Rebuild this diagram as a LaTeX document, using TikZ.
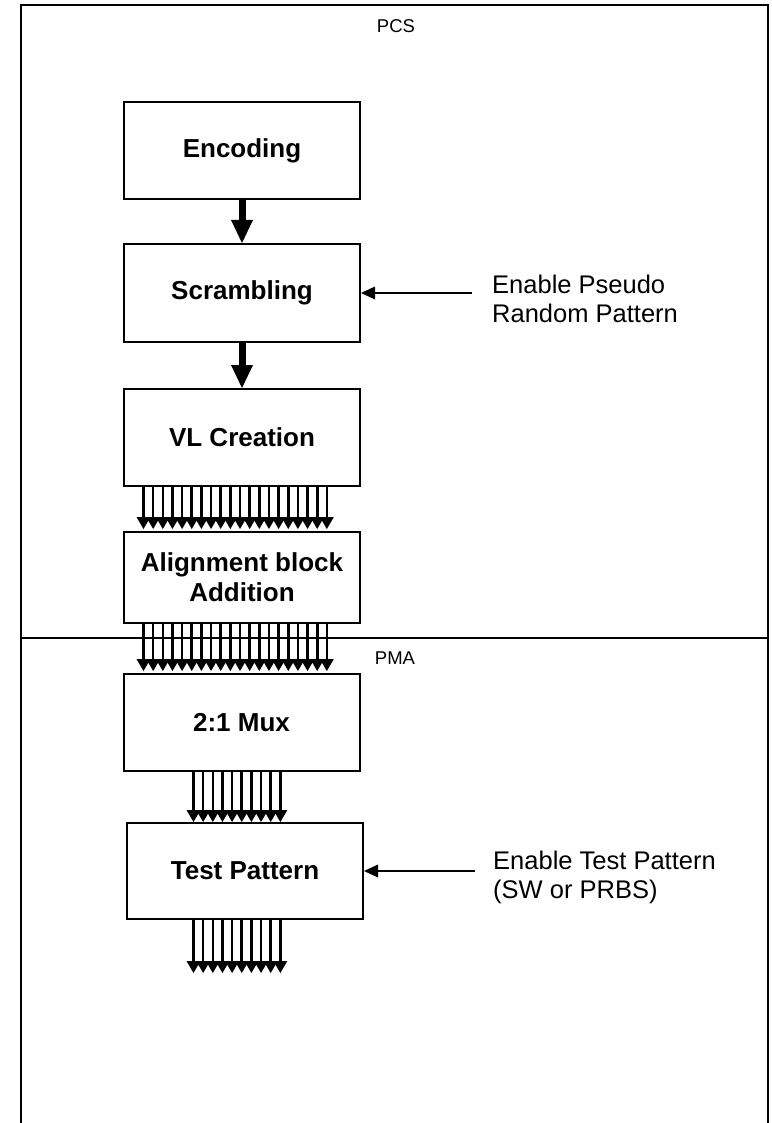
\documentclass[tikz,border=0pt]{standalone}
\usepackage{fontspec}
\setmainfont{Liberation Sans}
\usetikzlibrary{arrows.meta,calc}

\tikzset{
  block/.style={draw, line width=2pt, minimum width=236pt, minimum height=97pt,
    inner sep=0pt, align=center, font=\fontsize{26}{30}\selectfont\bfseries},
  flow/.style={line width=7pt,
    -{Triangle[length=23pt,width=22pt,line width=0pt]}},
  bus/.style={line width=2.6pt,
    -{Triangle[length=12pt,width=14pt,line width=0pt]}},
  ctrl/.style={line width=1.6pt,
    -{Triangle[length=14pt,width=13pt,line width=0pt]}},
  note/.style={anchor=west, align=left, inner sep=0pt,
    font=\fontsize{25.5}{29}\selectfont},
  region/.style={font=\fontsize{18.5}{20}\selectfont, inner sep=0pt},
}

\begin{document}
\begin{tikzpicture}[x=1pt, y=-1pt]
  \useasboundingbox (0,0) rectangle (771,1123);

  % outer frame (open at the bottom) and PCS/PMA divider
  \draw[line width=2.2pt] (21,1126) -- (21,5) -- (768,5) -- (768,1126);
  \draw[line width=2.2pt] (21,638) -- (768,638);
  \node[region] (pcs) at (396,26) {PCS};
  \node[region] (pma) at (395,658) {PMA};

  % processing blocks
  \node[block] (enc) at (242,150.5) {Encoding};
  \node[block, minimum height=98pt] (scr) at (242,293) {Scrambling};
  \node[block] (vl)  at (242,437.5) {VL Creation};
  \node[block, minimum height=91pt] (al) at (242,577.5) {Alignment block\\Addition};
  \node[block] (mux) at (241.5,722.5) {2:1 Mux};
  \node[block, minimum height=96pt] (tp) at (245,871) {Test Pattern};

  % single-path arrows
  \draw[flow] (enc.south) -- (scr.north);
  \draw[flow] (scr.south) -- (vl.north);

  % 20-lane buses
  \foreach \i in {0,...,19} {
    \pgfmathsetmacro{\d}{-98.5+9.65*\i}
    \draw[bus, shorten >=2pt] ([xshift=\d pt]vl.south) -- ([xshift=\d pt]vl.south |- al.north);
    \draw[bus, shorten >=2pt] ([xshift=\d pt]al.south) -- ([xshift=\d pt]al.south |- mux.north);
  }

  % 10-lane buses
  \coordinate (busout) at (236.5,973);
  \foreach \i in {0,...,9} {
    \pgfmathsetmacro{\d}{-48+9.65*\i}
    \draw[bus] ([xshift=\d pt]mux.south) -- ([xshift=\d pt]mux.south |- tp.north);
    \pgfmathsetmacro{\e}{-51.5+9.65*\i}
    \draw[bus] ([xshift=\e pt]tp.south) -- ([xshift=\e pt]tp.south |- busout);
  }

  % control inputs
  \node[note] (prn) at (492,299) {Enable Pseudo\\Random Pattern};
  \draw[ctrl] ([xshift=-20pt]scr.east -| prn.west) -- (scr.east);

  \node[note] (tpe) at (493,877) {Enable Test Pattern\\(SW or PRBS)};
  \draw[ctrl] ([xshift=-18pt]tp.east -| tpe.west) -- (tp.east);
\end{tikzpicture}
\end{document}
